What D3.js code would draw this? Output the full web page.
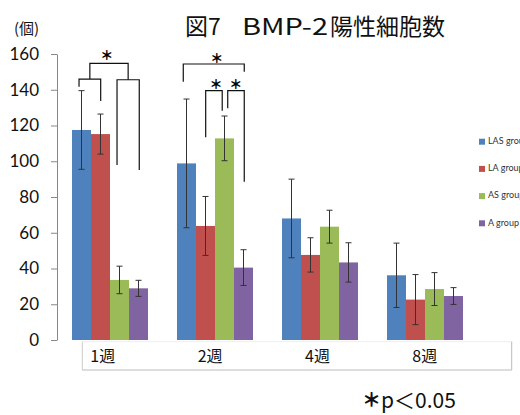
<!DOCTYPE html>
<html><head><meta charset="utf-8">
<script src="https://cdn.jsdelivr.net/npm/d3@7"></script>
<style>body{margin:0;background:#fff}svg{display:block}</style>
</head><body>
<svg id="chart" width="520" height="415"></svg>
<script>
// ---- data ----
const weeks = ["1週", "2週", "4週", "8週"];
const groups = ["LAS group", "LA group", "AS group", "A group"];
const colors = ["#4F81BD", "#C0504D", "#9BBB59", "#8064A2"];
const lasMean = [117.5, 98.8, 68.0, 36.2];
const lasErr  = [22.0, 36.0, 22.0, 18.0];
const laMean  = [115.2, 63.8, 47.6, 22.6];
const laErr   = [11.2, 16.5, 9.6, 14.0];
const asMean  = [33.6, 112.8, 63.4, 28.5];
const asErr   = [7.7, 12.5, 9.2, 9.2];
const aMean   = [28.9, 40.5, 43.4, 24.6];
const aErr    = [4.5, 10.0, 11.0, 4.7];
const yTicks  = [0, 20, 40, 60, 80, 100, 120, 140, 160];
// significance brackets: week, left slot, right slot (in bar units within the group),
// bracket height, left leg bottom, right leg bottom (values on the y scale)
const brackets = [
  ["1週", 0.37, 1.51, 146.0, 141.7, 133.7],
  ["1週", 2.37, 3.54, 145.6, 97.9, 95.1],
  ["1週", 0.94, 2.955, 154.8, 146.0, 145.6],
  ["2週", 0.33, 3.54, 154.4, 144.5, 150.1],
  ["2週", 1.51, 2.38, 139.5, 113.4, 128.3],
  ["2週", 2.67, 3.54, 139.5, 129.6, 88.6]
];
const stars = [
  ["1週", 1.83, 160.0],
  ["2週", 2.09, 158.0],
  ["2週", 2.05, 143.6],
  ["2週", 3.09, 143.6]
];

const means = [lasMean, laMean, asMean, aMean];
const errs = [lasErr, laErr, asErr, aErr];

const svg = d3.select("#chart");
const jp = "'Noto Sans CJK JP', 'Noto Sans', sans-serif";
const lat = "Lato, 'Open Sans', sans-serif";

const y = d3.scaleLinear().domain([0, 160]).range([340, 54]);
const x = d3.scaleBand().domain(weeks).range([57, 478])
  .paddingInner(29 / 105).paddingOuter(15 / 105);
const xs = d3.scaleBand().domain(groups).range([0, x.bandwidth()]);
const slot = d3.scaleLinear().domain([0, 4]).range([0, x.bandwidth()]);

// title
svg.append("text").attr("x", 185).attr("y", 35).attr("font-family", jp)
  .attr("font-size", 23).attr("fill", "#111").text("図7");
svg.append("text").attr("x", 242).attr("y", 35).attr("font-family", jp)
  .attr("font-size", 23).attr("fill", "#111").attr("textLength", 86)
  .attr("lengthAdjust", "spacingAndGlyphs").text("BMP-2");
svg.append("text").attr("x", 330).attr("y", 35).attr("font-family", jp)
  .attr("font-size", 23).attr("fill", "#111").text("陽性細胞数");

// unit
svg.append("text").attr("x", 14).attr("y", 30).attr("dominant-baseline", "middle")
  .attr("font-family", jp).attr("font-size", 15).attr("fill", "#111").text("(個)");

// y axis
const ya = svg.append("g").attr("transform", "translate(57,0)")
  .call(d3.axisLeft(y).tickValues(yTicks).tickSize(6).tickSizeOuter(0).tickPadding(12));
ya.select(".domain").attr("stroke", "#888");
ya.selectAll(".tick line").attr("stroke", "#888");
ya.selectAll(".tick text").attr("font-family", lat).attr("font-size", 17).attr("fill", "#111");

// bars
const gw = svg.append("g").selectAll("g").data(weeks).join("g")
  .attr("transform", d => `translate(${x(d)},0)`);
groups.forEach((g, gi) => {
  gw.append("rect")
    .attr("x", xs(g)).attr("width", xs.bandwidth())
    .attr("y", (w, i) => y(means[gi][i]))
    .attr("height", (w, i) => y(0) - y(means[gi][i]))
    .attr("fill", colors[gi]);
});
// error bars
groups.forEach((g, gi) => {
  const cx = xs(g) + xs.bandwidth() / 2;
  const eg = gw.append("g").attr("stroke", "#333").attr("stroke-width", 1).attr("fill", "none");
  eg.append("line").attr("x1", cx).attr("x2", cx)
    .attr("y1", (w, i) => y(means[gi][i] + errs[gi][i]))
    .attr("y2", (w, i) => y(means[gi][i] - errs[gi][i]));
  eg.append("line").attr("x1", cx - 3).attr("x2", cx + 3)
    .attr("y1", (w, i) => y(means[gi][i] + errs[gi][i]))
    .attr("y2", (w, i) => y(means[gi][i] + errs[gi][i]));
  eg.append("line").attr("x1", cx - 3).attr("x2", cx + 3)
    .attr("y1", (w, i) => y(means[gi][i] - errs[gi][i]))
    .attr("y2", (w, i) => y(means[gi][i] - errs[gi][i]));
});

// brackets
svg.append("g").selectAll("path").data(brackets).join("path")
  .attr("fill", "none").attr("stroke", "#111").attr("stroke-width", 1.2)
  .attr("d", b => {
    const x1 = x(b[0]) + slot(b[1]), x2 = x(b[0]) + slot(b[2]);
    return `M${x1},${y(b[4])}V${y(b[3])}H${x2}V${y(b[5])}`;
  });
svg.append("g").selectAll("text").data(stars).join("text")
  .attr("x", s => x(s[0]) + slot(s[1])).attr("y", s => y(s[2]))
  .attr("text-anchor", "middle").attr("dominant-baseline", "central")
  .attr("font-family", jp).attr("font-size", 13).attr("font-weight", "900")
  .attr("fill", "#000").text("＊");

// category label box
const bx0 = 82.3, bx1 = 511.7, by0 = 341.7, by1 = 370;
svg.append("line").attr("x1", bx0).attr("x2", bx1).attr("y1", by0).attr("y2", by0).attr("stroke", "#eee");
svg.append("line").attr("x1", bx0).attr("x2", bx0).attr("y1", by0).attr("y2", by1).attr("stroke", "#ccc");
svg.append("line").attr("x1", bx0).attr("x2", bx1).attr("y1", by1).attr("y2", by1).attr("stroke", "#bbb");
svg.append("line").attr("x1", bx1).attr("x2", bx1).attr("y1", by0).attr("y2", by1).attr("stroke", "#bbb");
const xl = d3.scaleBand().domain(weeks).range([bx0, bx1]);
svg.append("g").selectAll("text").data(weeks).join("text")
  .attr("x", d => xl(d) + 8).attr("y", 357.5).attr("dominant-baseline", "middle")
  .attr("font-family", jp).attr("font-size", 16).attr("fill", "#111").text(d => d);

// legend
const lg = svg.append("g").selectAll("g").data(groups).join("g")
  .attr("transform", (d, i) => `translate(479,${141.7 + i * 27.2})`);
lg.append("rect").attr("x", 0).attr("y", -3).attr("width", 6).attr("height", 6)
  .attr("fill", (d, i) => colors[i]);
lg.append("text").attr("x", 9).attr("y", 0).attr("dominant-baseline", "middle")
  .attr("font-family", lat).attr("font-size", 9).attr("fill", "#333").text(d => d);

// footnote
const fn = svg.append("text").attr("x", 362).attr("y", 402).attr("dominant-baseline", "middle")
  .attr("font-family", jp).attr("font-size", 21).attr("fill", "#111");
fn.append("tspan").attr("font-weight", "900").attr("font-size", 19).text("＊");
fn.append("tspan").text("p＜0.05");
</script>
</body></html>
